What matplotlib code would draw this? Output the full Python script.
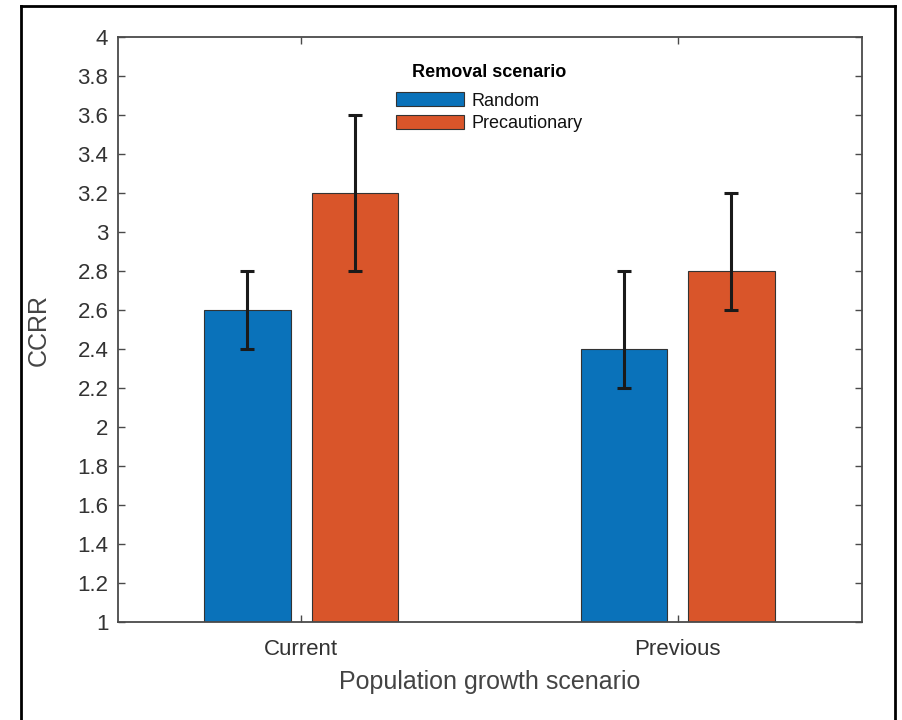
import matplotlib
matplotlib.use("Agg")
import matplotlib.pyplot as plt
import numpy as np
from matplotlib.lines import Line2D

categories = ["Current", "Previous"]
series = ["Random", "Precautionary"]
values = {"Random": [2.6, 2.4], "Precautionary": [3.2, 2.8]}
err_low = {"Random": [2.4, 2.2], "Precautionary": [2.8, 2.6]}
err_high = {"Random": [2.8, 2.8], "Precautionary": [3.6, 3.2]}
colors = {"Random": "#0A72BA", "Precautionary": "#D9552A"}
yticks = [1, 1.2, 1.4, 1.6, 1.8, 2, 2.2, 2.4, 2.6, 2.8, 3, 3.2, 3.4, 3.6, 3.8, 4]

plt.rcParams['font.family'] = ['Liberation Sans', 'DejaVu Sans']
axc = "#4a4a4a"

fig = plt.figure(figsize=(9.02, 7.2), dpi=100)
ax = fig.add_axes([118/902, 1-622/720, 744/902, 585/720])

x = np.arange(1, len(categories) + 1)
w = 0.229
offs = {"Random": -0.143, "Precautionary": 0.143}
for s in series:
    v = np.array(values[s])
    lo = v - np.array(err_low[s])
    hi = np.array(err_high[s]) - v
    ax.bar(x + offs[s], v - 1, w, bottom=1, color=colors[s], edgecolor="#333333",
           linewidth=0.8, label=s, zorder=2)
    ax.errorbar(x + offs[s], v, yerr=[lo, hi], fmt="none", ecolor="#1a1a1a",
                elinewidth=2.2, capsize=5, capthick=2.2, zorder=3)

ax.set_xlim(0.513, 2.49)
ax.set_ylim(1, 4)
ax.set_yticks(yticks)
ax.set_yticklabels([f"{t:g}" for t in yticks])
ax.set_xticks(x)
ax.set_xticklabels(categories)
for sp in ax.spines.values():
    sp.set_color(axc)
    sp.set_linewidth(1.3)
ax.tick_params(direction="in", length=5, width=1.0, color=axc, labelcolor="#333333",
               labelsize=16, top=True, right=True)
ax.tick_params(axis="y", pad=7)
ax.tick_params(axis="x", pad=12.5)
ax.set_ylabel("CCRR", fontsize=18, color="#444444", labelpad=19)
ax.set_xlabel("Population growth scenario", fontsize=18, color="#444444", labelpad=7)

leg = ax.legend(title="Removal scenario", loc="upper center",
                bbox_to_anchor=((489-118)/744, (622-64)/585),
                frameon=False, fontsize=13, title_fontproperties={"weight": "bold", "size": 13},
                handlelength=3.8, handleheight=0.8, handletextpad=0.4,
                labelspacing=0.3, borderpad=0, borderaxespad=0)
try:
    leg._legend_box.sep = 0.3 * 13 + 4.3
except Exception:
    pass
for t in leg.get_texts():
    t.set_color("#111111")

lw = 2.0
fig.add_artist(Line2D([21/902, 21/902], [-0.01, 1-6/720], transform=fig.transFigure, color="black", lw=lw))
fig.add_artist(Line2D([21/902, 895/902], [1-6/720, 1-6/720], transform=fig.transFigure, color="black", lw=lw))
fig.add_artist(Line2D([895/902, 895/902], [-0.01, 1-6/720], transform=fig.transFigure, color="black", lw=lw))

fig.savefig("out.png", dpi=100)
